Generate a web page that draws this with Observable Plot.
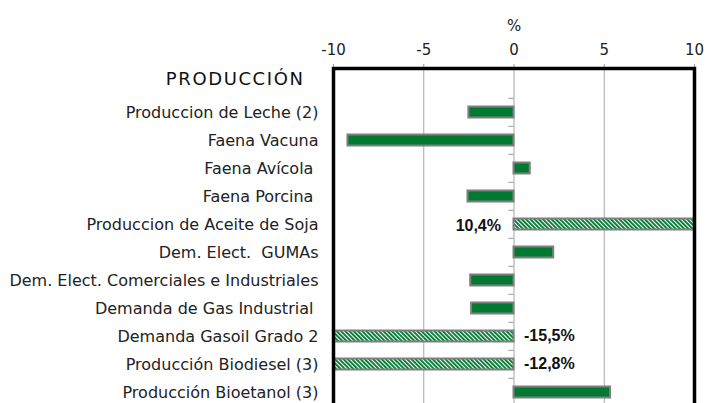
<!DOCTYPE html>
<html><head><meta charset="utf-8">
<script src="https://cdn.jsdelivr.net/npm/d3@7"></script>
<script src="https://cdn.jsdelivr.net/npm/@observablehq/plot@0.6"></script>
<style>
html,body{margin:0;padding:0;background:#fff;overflow:hidden;width:711px;height:403px}
svg text{white-space:pre}
</style>
</head><body><div id="chart"></div>
<script>
const header = "PRODUCCIÓN";
const categories = [
  "Produccion de Leche (2)",
  "Faena Vacuna",
  "Faena Avícola ",
  "Faena Porcina ",
  "Produccion de Aceite de Soja",
  "Dem. Elect.  GUMAs",
  "Dem. Elect. Comerciales e Industriales",
  "Demanda de Gas Industrial ",
  "Demanda Gasoil Grado 2",
  "Producción Biodiesel (3)",
  "Producción Bioetanol (3)"
];
const values = [-2.5, -9.2, 0.9, -2.55, 10.4, 2.2, -2.4, -2.35, -15.5, -12.8, 5.35];
const hatched = [false, false, false, false, true, false, false, false, true, true, false];
const xTicks = [-10, -5, 0, 5, 10];
const annotationCats = ["Produccion de Aceite de Soja", "Demanda Gasoil Grado 2", "Producción Biodiesel (3)"];
const annotationTexts = ["10,4%", "-15,5%", "-12,8%"];
const unitLabel = ["%"];

const data = categories.map((c, i) => ({category: c, value: values[i], hatched: hatched[i]}));
const notes = annotationCats.map((c, i) => ({category: c, text: annotationTexts[i], value: data.find(d => d.category === c).value}));
const yDomain = [header, ...categories];

const W = 711, H = 408, mT = 68, mB = 0, mL = 333, mR = 17;
const step = (H - mT - mB) / yDomain.length;
const green = "#007a33";

const svg = Plot.plot({
  width: W, height: H,
  marginTop: mT, marginBottom: mB, marginLeft: mL, marginRight: mR,
  style: {fontFamily: "DejaVu Sans", fontSize: "15px", color: "#222", background: "#fff"},
  x: {domain: [-10, 10]},
  y: {domain: yDomain, padding: 0},
  marks: [
    Plot.gridX(xTicks.filter(t => t > -10 && t < 10), {stroke: "#a6a6a6", strokeOpacity: 1, strokeWidth: 1}),
    Plot.axisX({anchor: "top", ticks: xTicks, tickFormat: d => String(d), tickSize: 5, tickPadding: 9, stroke: "#999", label: null, fontSize: 15, fill: "#222"}),
    Plot.axisY({ticks: categories, tickSize: 0, tickPadding: 15, label: null, fontSize: 16, fill: "#222"}),
    Plot.text([header], {y: d => d, frameAnchor: "left", textAnchor: "end", dx: -29, dy: -5, fontSize: 18, fill: "#111"}),
    Plot.ruleY(categories, {y: d => d, x1: -0.28, x2: 0, dy: -step / 2, stroke: "#999", strokeWidth: 1}),
    Plot.barX(data.filter(d => !d.hatched), {x: "value", y: "category", fill: green, stroke: "#7f7f7f", strokeWidth: 2, insetTop: 8.5, insetBottom: 8.5, clip: true}),
    Plot.barX(data.filter(d => d.hatched), {x: "value", y: "category", fill: "url(#hatch)", stroke: "#7f7f7f", strokeWidth: 2, insetTop: 8.5, insetBottom: 8.5, clip: true}),
    Plot.text(notes.filter(d => d.value > 0), {x: 0, y: "category", text: "text", textAnchor: "end", dx: -13, dy: 1, fontFamily: "Liberation Sans", fontWeight: "bold", fontSize: 16, fill: "#111"}),
    Plot.text(notes.filter(d => d.value < 0), {x: 0, y: "category", text: "text", textAnchor: "start", dx: 10, dy: -1, fontFamily: "Liberation Sans", fontWeight: "bold", fontSize: 16, fill: "#111"}),
    Plot.text(unitLabel, {x: 0, text: d => d, frameAnchor: "top", dy: -48, fontSize: 15, fill: "#222"}),
    Plot.frame({stroke: "#000", strokeWidth: 3.5})
  ]
});

const defs = d3.select(svg).insert("defs", ":first-child");
const pat = defs.append("pattern").attr("id", "hatch").attr("patternUnits", "userSpaceOnUse")
  .attr("width", 3).attr("height", 3).attr("patternTransform", "rotate(-45)");
pat.append("rect").attr("width", 3).attr("height", 3).attr("fill", "#fff");
pat.append("rect").attr("width", 1.9).attr("height", 3).attr("fill", green);

// widen the section header's letter spacing to match the reference typeface
d3.select(svg).selectAll("text").filter(function() { return this.textContent === header; })
  .attr("letter-spacing", 1.6);

document.getElementById("chart").appendChild(svg);
</script>
</body></html>
